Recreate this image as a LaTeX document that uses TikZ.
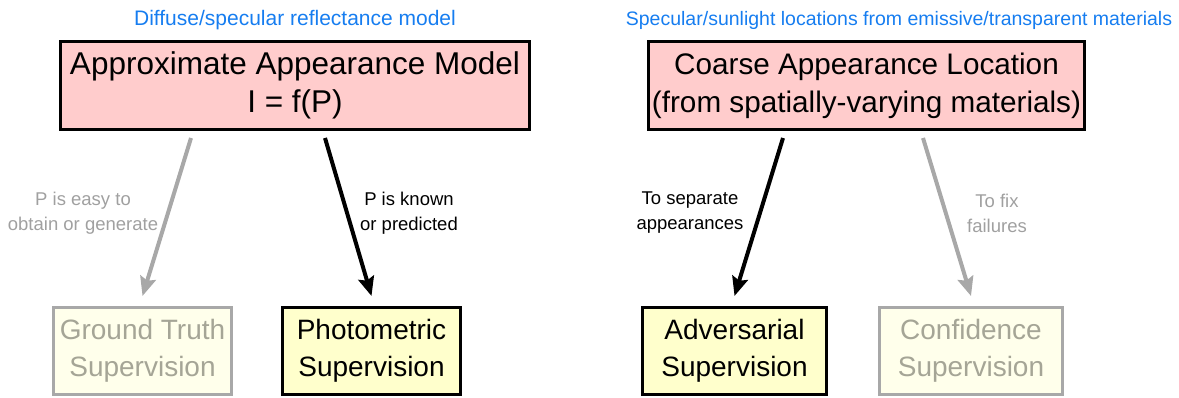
\documentclass[tikz,border=0pt]{standalone}
\usepackage{fontspec}
\setmainfont{Liberation Sans}
\usetikzlibrary{arrows.meta}
\definecolor{pinkfill}{RGB}{255,204,204}
\definecolor{yelfill}{RGB}{255,255,204}
\definecolor{fadefill}{RGB}{255,255,235}
\definecolor{fadeline}{RGB}{168,168,168}
\definecolor{fadetext}{RGB}{165,165,150}
\definecolor{graytext}{RGB}{160,160,160}
\definecolor{bluetext}{RGB}{22,125,240}
\begin{document}
\begin{tikzpicture}[x=1pt,y=-1pt,
  topbox/.style={draw=black,line width=3pt,fill=pinkfill,inner sep=0pt,
    minimum height=88pt,align=center,
    font=\fontsize{31.5}{38}\selectfont},
  supbox/.style={draw=black,line width=3pt,fill=yelfill,inner sep=0pt,
    minimum height=87pt,align=center,
    font=\fontsize{28}{37}\selectfont},
  fadebox/.style={supbox,draw=fadeline,fill=fadefill,text=fadetext},
  bluelabel/.style={text=bluetext,font=\fontsize{21}{25}\selectfont,inner sep=0pt},
  edgelabel/.style={align=center,font=\fontsize{18.5}{25}\selectfont,inner sep=0pt},
  blackarrow/.style={line width=4pt,draw=black,
    -{Stealth[length=19pt,width=16pt,inset=3pt]}},
  grayarrow/.style={blackarrow,draw=fadeline,fill=fadeline},
]
\useasboundingbox (0,0) rectangle (1179,398);

\node[topbox,minimum width=469pt] (tl) at (295,85.5)
  {Approximate Appearance Model\\I = f(P)};
\node[topbox,minimum width=436pt,font=\fontsize{29.7}{38}\selectfont] (tr) at (866.5,85.5)
  {Coarse Appearance Location\\(from spatially-varying materials)};

\node[bluelabel] (bl) at (295,20) {Diffuse/specular reflectance model};
\node[bluelabel,font=\fontsize{19.5}{24}\selectfont] (br) at (899,20) {Specular/sunlight locations from emissive/transparent materials};

\node[fadebox,minimum width=178pt] (gt) at (142.5,351) {Ground Truth\\Supervision};
\node[supbox,minimum width=178pt] (ph) at (371.5,351) {Photometric\\Supervision};
\node[supbox,minimum width=184pt] (ad) at (734.5,351) {Adversarial\\Supervision};
\node[fadebox,minimum width=183pt] (cf) at (971,351) {Confidence\\Supervision};

\draw[grayarrow] ([xshift=-104pt,yshift=-7pt]tl.south) -- ([yshift=10pt]gt.north);
\draw[blackarrow] ([xshift=30pt,yshift=-7pt]tl.south) -- ([yshift=10pt]ph.north);
\draw[blackarrow] ([xshift=-83.5pt,yshift=-7pt]tr.south) -- ([yshift=10pt]ad.north);
\draw[grayarrow] ([xshift=56.5pt,yshift=-7pt]tr.south) -- ([yshift=10pt]cf.north);

\node[edgelabel,text=graytext] (l1) at (83,213) {P is easy to\\obtain or generate};
\node[edgelabel] (l2) at (409,213) {P is known\\or predicted};
\node[edgelabel] (l3) at (690,213) {To separate\\appearances};
\node[edgelabel,text=graytext] (l4) at (997,213) {To fix\\failures};
\end{tikzpicture}
\end{document}
